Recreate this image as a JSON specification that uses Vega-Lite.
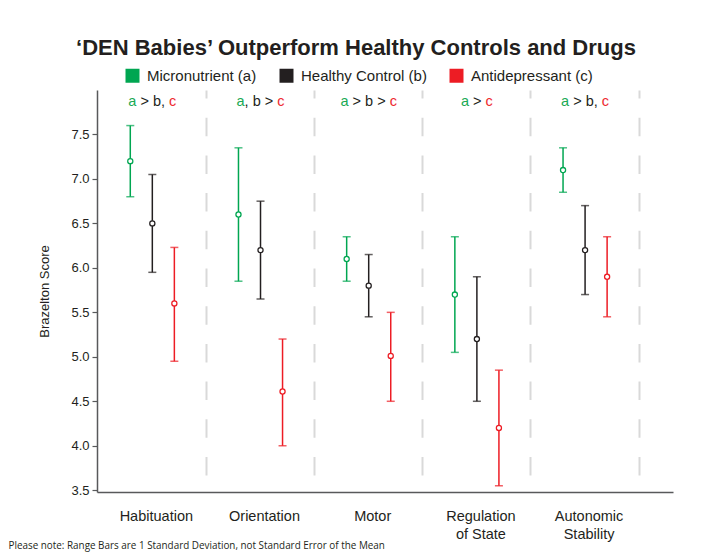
{
  "$schema": "https://vega.github.io/schema/vega-lite/v6.json",
  "width": 576,
  "height": 402,
  "autosize": {"type": "none"},
  "padding": {"left": 97, "top": 90, "right": 29, "bottom": 60},
  "background": "white",
  "title": {
    "text": "‘DEN Babies’ Outperform Healthy Controls and Drugs",
    "font": "Liberation Sans",
    "fontSize": 22,
    "fontWeight": "bold",
    "color": "#231f20",
    "anchor": "middle",
    "frame": "group",
    "dx": -29,
    "offset": 8
  },
  "config": {"view": {"stroke": null}, "font": "Liberation Sans"},
  "datasets": {
    "bars": [
      {"group": "Habituation", "series": "Micronutrient (a)", "mean": 7.2, "low": 6.8, "high": 7.6},
      {"group": "Habituation", "series": "Healthy Control (b)", "mean": 6.5, "low": 5.95, "high": 7.05},
      {"group": "Habituation", "series": "Antidepressant (c)", "mean": 5.6, "low": 4.95, "high": 6.23},
      {"group": "Orientation", "series": "Micronutrient (a)", "mean": 6.6, "low": 5.85, "high": 7.35},
      {"group": "Orientation", "series": "Healthy Control (b)", "mean": 6.2, "low": 5.65, "high": 6.75},
      {"group": "Orientation", "series": "Antidepressant (c)", "mean": 4.61, "low": 4.0, "high": 5.2},
      {"group": "Motor", "series": "Micronutrient (a)", "mean": 6.1, "low": 5.85, "high": 6.35},
      {"group": "Motor", "series": "Healthy Control (b)", "mean": 5.8, "low": 5.45, "high": 6.15},
      {"group": "Motor", "series": "Antidepressant (c)", "mean": 5.01, "low": 4.5, "high": 5.5},
      {"group": "Regulation of State", "series": "Micronutrient (a)", "mean": 5.7, "low": 5.05, "high": 6.35},
      {"group": "Regulation of State", "series": "Healthy Control (b)", "mean": 5.2, "low": 4.5, "high": 5.9},
      {"group": "Regulation of State", "series": "Antidepressant (c)", "mean": 4.2, "low": 3.55, "high": 4.85},
      {"group": "Autonomic Stability", "series": "Micronutrient (a)", "mean": 7.1, "low": 6.85, "high": 7.35},
      {"group": "Autonomic Stability", "series": "Healthy Control (b)", "mean": 6.2, "low": 5.7, "high": 6.7},
      {"group": "Autonomic Stability", "series": "Antidepressant (c)", "mean": 5.9, "low": 5.45, "high": 6.35}
    ],
    "notes": [
      {"group": "Habituation", "full": "a > b, c", "first": "a", "mid": "> b,", "last": "c"},
      {"group": "Orientation", "full": "a, b > c", "first": "a", "mid": ", b >", "last": "c"},
      {"group": "Motor", "full": "a > b > c", "first": "a", "mid": "> b >", "last": "c"},
      {"group": "Regulation of State", "full": "a > c", "first": "a", "mid": ">", "last": "c"},
      {"group": "Autonomic Stability", "full": "a > b, c", "first": "a", "mid": "> b,", "last": "c"}
    ]
  },
  "encoding": {
    "x": {
      "field": "group",
      "type": "nominal",
      "sort": ["Habituation", "Orientation", "Motor", "Regulation of State", "Autonomic Stability"],
      "scale": {"paddingInner": 0, "paddingOuter": 0.162, "align": 0.035},
      "axis": {
        "title": "Please note: Range Bars are 1 Standard Deviation, not Standard Error of the Mean",
        "titleX": -89,
        "titleY": 53,
        "titleAlign": "left",
        "titleBaseline": "middle",
        "titleFont": "Open Sans",
        "titleFontSize": 9.9,
        "titleFontWeight": "normal",
        "titleColor": "#231f20",
        "labelAngle": 0,
        "labelFont": "Liberation Sans",
        "labelFontSize": 14.5,
        "labelColor": "#231f20",
        "labelBaseline": "middle",
        "labelPadding": 24,
        "labelLineHeight": 18,
        "labelOffset": 4,
        "bandPosition": 1,
        "ticks": false,
        "tickSize": 0,
        "domainColor": "#58595b",
        "domainWidth": 1.5,
        "grid": true,
        "gridColor": "#d9d9d9",
        "gridWidth": 2,
        "gridDash": [18.5, 19.2],
        "gridDashOffset": 10.5,
        "labelExpr": "datum.value == 'Regulation of State' ? ['Regulation', 'of State'] : datum.value == 'Autonomic Stability' ? ['Autonomic', 'Stability'] : datum.value",
        "encode": {
          "labels": {
            "update": {
              "dy": {"signal": "datum.value == 'Regulation of State' || datum.value == 'Autonomic Stability' ? -9 : 0"}
            }
          }
        }
      }
    }
  },
  "layer": [
    {
      "data": {"name": "bars"},
      "mark": {"type": "rule", "strokeWidth": 1.5},
      "encoding": {
        "xOffset": {"field": "series", "type": "nominal", "sort": ["Micronutrient (a)", "Healthy Control (b)", "Antidepressant (c)"], "scale": {"paddingInner": 0, "paddingOuter": 0.955}},
        "y": {
          "field": "low",
          "type": "quantitative",
          "title": "Brazelton Score",
          "scale": {"domain": [3.48, 8.0], "nice": false, "zero": false},
          "axis": {
            "values": [3.5, 4, 4.5, 5, 5.5, 6, 6.5, 7, 7.5],
            "format": ".1f",
            "grid": false,
            "labelFont": "Liberation Sans",
            "labelFontSize": 13,
            "labelColor": "#231f20",
            "tickSize": 5,
            "tickColor": "#58595b",
            "tickWidth": 1.2,
            "domainColor": "#58595b",
            "domainWidth": 1.5,
            "labelPadding": 3,
            "titleFont": "Liberation Sans",
            "titleFontSize": 13,
            "titleFontWeight": "normal",
            "titleColor": "#231f20",
            "titlePadding": 19
          }
        },
        "y2": {"field": "high"},
        "color": {
          "field": "series",
          "type": "nominal",
          "scale": {"domain": ["Micronutrient (a)", "Healthy Control (b)", "Antidepressant (c)"], "range": ["#00a651", "#231f20", "#ed1c24"]},
          "legend": {
            "title": null,
            "orient": "none",
            "legendX": 28,
            "legendY": -22,
            "direction": "horizontal",
            "symbolType": "square",
            "symbolSize": 196,
            "symbolStrokeWidth": 0,
            "labelFont": "Liberation Sans",
            "labelFontSize": 15,
            "labelColor": "#231f20",
            "labelOffset": 7,
            "columnPadding": 22,
            "padding": 0,
            "encode": {"symbols": {"update": {"fill": {"scale": "color", "field": "value"}, "fillOpacity": {"value": 1}, "opacity": {"value": 1}}}}
          }
        }
      }
    },
    {
      "data": {"name": "bars"},
      "mark": {"type": "tick", "size": 8, "thickness": 1.5},
      "encoding": {
        "xOffset": {"field": "series", "type": "nominal", "sort": ["Micronutrient (a)", "Healthy Control (b)", "Antidepressant (c)"]},
        "y": {"field": "low", "type": "quantitative", "title": "Brazelton Score"},
        "color": {"field": "series", "type": "nominal"}
      }
    },
    {
      "data": {"name": "bars"},
      "mark": {"type": "tick", "size": 8, "thickness": 1.5},
      "encoding": {
        "xOffset": {"field": "series", "type": "nominal", "sort": ["Micronutrient (a)", "Healthy Control (b)", "Antidepressant (c)"]},
        "y": {"field": "high", "type": "quantitative", "title": "Brazelton Score"},
        "color": {"field": "series", "type": "nominal"}
      }
    },
    {
      "data": {"name": "bars"},
      "mark": {"type": "point", "shape": "circle", "filled": false, "fill": "white", "fillOpacity": 1, "opacity": 1, "size": 26, "strokeWidth": 1.3},
      "encoding": {
        "xOffset": {"field": "series", "type": "nominal", "sort": ["Micronutrient (a)", "Healthy Control (b)", "Antidepressant (c)"]},
        "y": {"field": "mean", "type": "quantitative", "title": "Brazelton Score"},
        "color": {"field": "series", "type": "nominal"}
      }
    },
    {
      "data": {"name": "notes"},
      "transform": [{"filter": "datum.full == 'a > b, c'"}],
      "mark": {"type": "text", "align": "left", "baseline": "alphabetic", "font": "Liberation Sans", "fontSize": 14.5, "color": "#231f20", "dx": -11.89},
      "encoding": {
        "y": {"datum": 7.82, "type": "quantitative", "title": "Brazelton Score"},
        "text": {"field": "mid"}
      }
    },
    {
      "data": {"name": "notes"},
      "transform": [{"filter": "datum.full == 'a, b > c'"}],
      "mark": {"type": "text", "align": "left", "baseline": "alphabetic", "font": "Liberation Sans", "fontSize": 14.5, "color": "#231f20", "dx": -15.92},
      "encoding": {
        "y": {"datum": 7.82, "type": "quantitative", "title": "Brazelton Score"},
        "text": {"field": "mid"}
      }
    },
    {
      "data": {"name": "notes"},
      "transform": [{"filter": "datum.full == 'a > b > c'"}],
      "mark": {"type": "text", "align": "left", "baseline": "alphabetic", "font": "Liberation Sans", "fontSize": 14.5, "color": "#231f20", "dx": -16.13},
      "encoding": {
        "y": {"datum": 7.82, "type": "quantitative", "title": "Brazelton Score"},
        "text": {"field": "mid"}
      }
    },
    {
      "data": {"name": "notes"},
      "transform": [{"filter": "datum.full == 'a > c'"}],
      "mark": {"type": "text", "align": "left", "baseline": "alphabetic", "font": "Liberation Sans", "fontSize": 14.5, "color": "#231f20", "dx": -3.83},
      "encoding": {
        "y": {"datum": 7.82, "type": "quantitative", "title": "Brazelton Score"},
        "text": {"field": "mid"}
      }
    },
    {
      "data": {"name": "notes"},
      "transform": [{"filter": "datum.full == 'a > b, c' || datum.full == 'a, b > c'"}],
      "mark": {"type": "text", "align": "left", "baseline": "alphabetic", "font": "Liberation Sans", "fontSize": 14.5, "color": "#1aaa55", "dx": -23.98},
      "encoding": {
        "y": {"datum": 7.82, "type": "quantitative", "title": "Brazelton Score"},
        "text": {"field": "first"}
      }
    },
    {
      "data": {"name": "notes"},
      "transform": [{"filter": "datum.full == 'a > b > c'"}],
      "mark": {"type": "text", "align": "left", "baseline": "alphabetic", "font": "Liberation Sans", "fontSize": 14.5, "color": "#1aaa55", "dx": -28.22},
      "encoding": {
        "y": {"datum": 7.82, "type": "quantitative", "title": "Brazelton Score"},
        "text": {"field": "first"}
      }
    },
    {
      "data": {"name": "notes"},
      "transform": [{"filter": "datum.full == 'a > c'"}],
      "mark": {"type": "text", "align": "left", "baseline": "alphabetic", "font": "Liberation Sans", "fontSize": 14.5, "color": "#1aaa55", "dx": -15.92},
      "encoding": {
        "y": {"datum": 7.82, "type": "quantitative", "title": "Brazelton Score"},
        "text": {"field": "first"}
      }
    },
    {
      "data": {"name": "notes"},
      "transform": [{"filter": "datum.full == 'a > b, c' || datum.full == 'a, b > c'"}],
      "mark": {"type": "text", "align": "right", "baseline": "alphabetic", "font": "Liberation Sans", "fontSize": 14.5, "color": "#ee2a2f", "dx": 23.98},
      "encoding": {
        "y": {"datum": 7.82, "type": "quantitative", "title": "Brazelton Score"},
        "text": {"field": "last"}
      }
    },
    {
      "data": {"name": "notes"},
      "transform": [{"filter": "datum.full == 'a > b > c'"}],
      "mark": {"type": "text", "align": "right", "baseline": "alphabetic", "font": "Liberation Sans", "fontSize": 14.5, "color": "#ee2a2f", "dx": 28.22},
      "encoding": {
        "y": {"datum": 7.82, "type": "quantitative", "title": "Brazelton Score"},
        "text": {"field": "last"}
      }
    },
    {
      "data": {"name": "notes"},
      "transform": [{"filter": "datum.full == 'a > c'"}],
      "mark": {"type": "text", "align": "right", "baseline": "alphabetic", "font": "Liberation Sans", "fontSize": 14.5, "color": "#ee2a2f", "dx": 15.92},
      "encoding": {
        "y": {"datum": 7.82, "type": "quantitative", "title": "Brazelton Score"},
        "text": {"field": "last"}
      }
    }
  ]
}
